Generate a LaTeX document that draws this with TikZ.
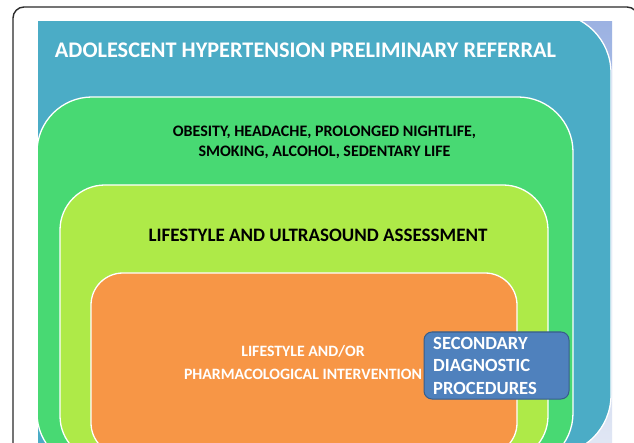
\documentclass[tikz,border=0pt]{standalone}
\usepackage{fontspec}
\setmainfont{Carlito}
\definecolor{frameblack}{HTML}{2B2B2B}
\definecolor{lavtop}{HTML}{9CB2E2}
\definecolor{lavbot}{HTML}{E0E6F4}
\definecolor{tealc}{HTML}{4BACC6}
\definecolor{greenc}{HTML}{48D973}
\definecolor{limec}{HTML}{AEEA48}
\definecolor{orangec}{HTML}{F79646}
\definecolor{bluec}{HTML}{4F81BD}
\definecolor{blueborder}{HTML}{385D8A}
\begin{document}
\begin{tikzpicture}[x=1pt,y=-1pt,
  layer/.style={draw=white,line width=1.3pt},
  boldtext/.style={font=\bfseries,inner sep=0pt,align=center},
]
\useasboundingbox (0,0) rectangle (634,443);
\fill[white] (0,0) rectangle (634,443);
\begin{scope}
\clip (0,0) rectangle (634,443);
\draw[frameblack,line width=1.4pt,rounded corners=11pt] (13,7) rectangle (638,480);
\end{scope}
\begin{scope}
\clip (38,22) rectangle (612,443);
\shade[top color=lavtop,bottom color=lavbot] (38,22) rectangle (612,443);
\path[layer,fill=tealc,rounded corners=60pt] (-80,13) rectangle (611,455);
\path[layer,fill=greenc,rounded corners=55pt] (37,97) rectangle (573,468);
\path[layer,fill=limec,rounded corners=45pt] (60,185) rectangle (548,461);
\path[layer,fill=orangec,rounded corners=32pt] (91,273) rectangle (517,455);
\end{scope}
\node[boldtext,white,font=\fontsize{22.3}{26}\selectfont\bfseries] (title) at (305.5,50) {ADOLESCENT HYPERTENSION PRELIMINARY REFERRAL};
\node[boldtext,black,font=\fontsize{16}{20}\selectfont\bfseries] (risk) at (324.5,142) {OBESITY, HEADACHE, PROLONGED NIGHTLIFE,\\SMOKING, ALCOHOL, SEDENTARY LIFE};
\node[boldtext,black,font=\fontsize{19}{22}\selectfont\bfseries] (assess) at (318,235) {LIFESTYLE AND ULTRASOUND ASSESSMENT};
\node[boldtext,white,font=\fontsize{15.8}{23}\selectfont\bfseries] (interv) at (303,362.5) {LIFESTYLE AND/OR\\PHARMACOLOGICAL INTERVENTION};
\node[draw=blueborder,fill=bluec,line width=1pt,rounded corners=8pt,minimum width=145pt,minimum height=67pt,inner sep=0pt] (sec) at (496.5,365.5) {};
\node[boldtext,white,align=left,anchor=west,font=\fontsize{18.6}{22.5}\selectfont\bfseries] (sectext) at (433,365.5) {SECONDARY\\DIAGNOSTIC\\PROCEDURES};
\end{tikzpicture}
\end{document}
